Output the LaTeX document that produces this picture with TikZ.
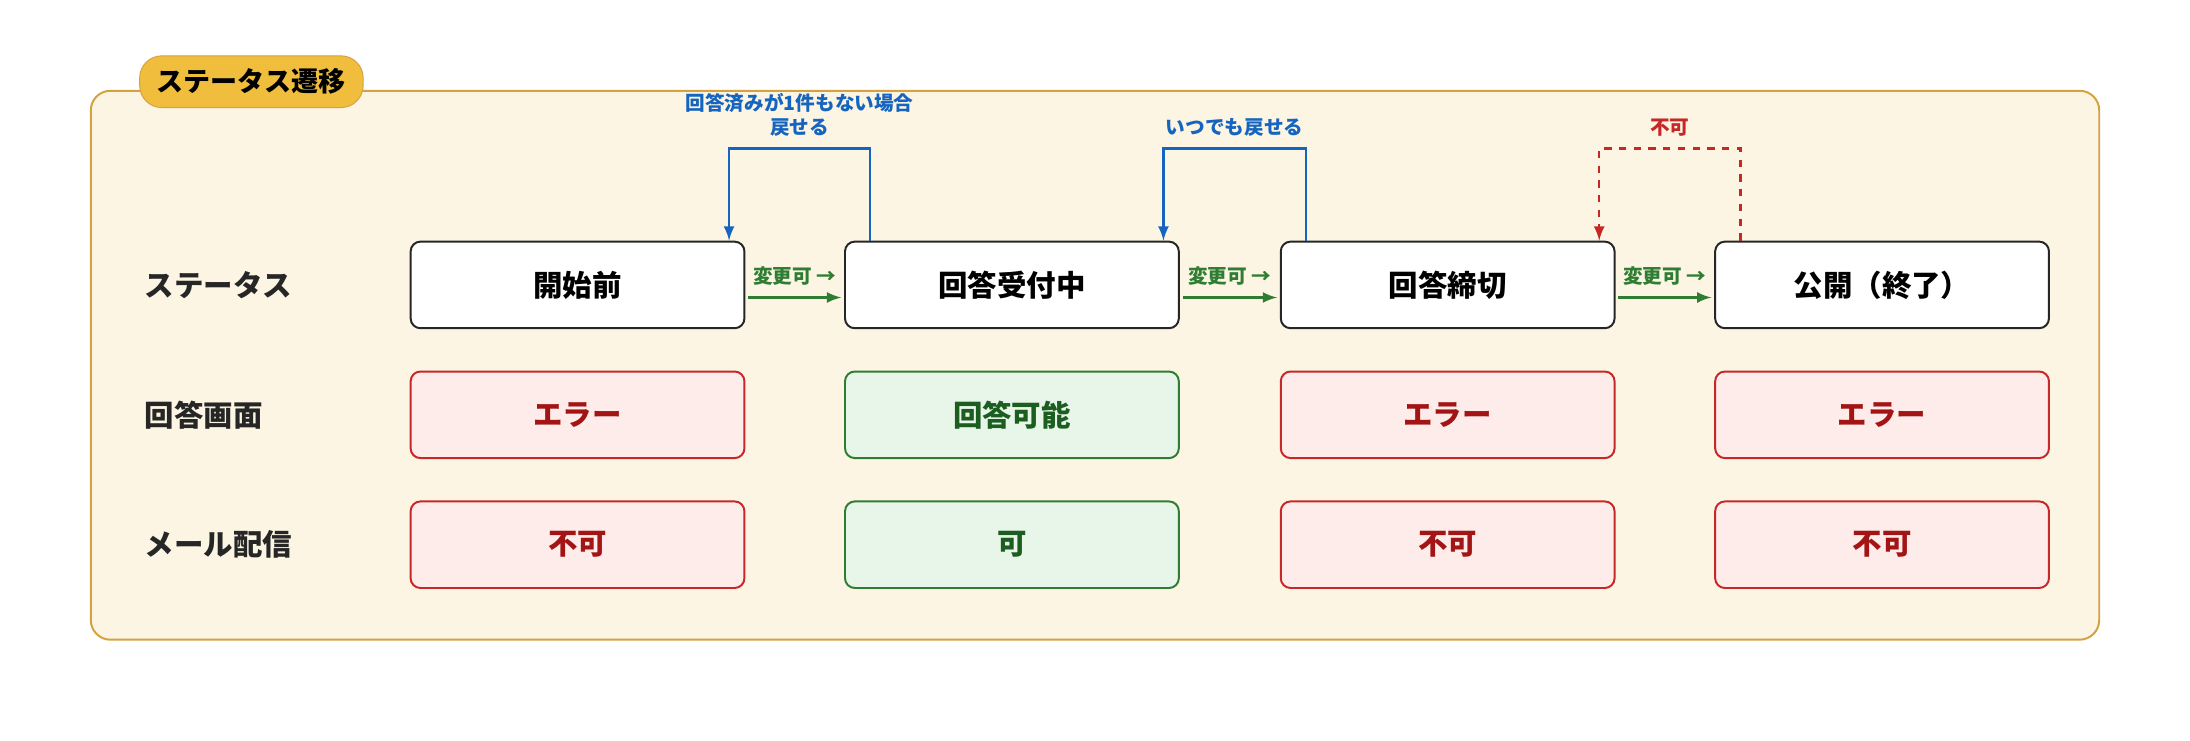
\documentclass[tikz,border=0pt]{standalone}
\usepackage{fontspec}
\setmainfont{Noto Sans CJK JP}
\usetikzlibrary{positioning}
\definecolor{panelfill}{HTML}{FCF5E3}
\definecolor{paneldraw}{HTML}{D4A240}
\definecolor{badgefill}{HTML}{F0BE3C}
\definecolor{ngfill}{HTML}{FDECEA}
\definecolor{ngdraw}{HTML}{C62828}
\definecolor{ngtext}{HTML}{A31515}
\definecolor{okfill}{HTML}{E8F5E9}
\definecolor{okdraw}{HTML}{2E7D32}
\definecolor{oktext}{HTML}{1B5E20}
\definecolor{backblue}{HTML}{1565C0}
\tikzstyle{status} = [rectangle, rounded corners=4pt, minimum width=4.78cm, minimum height=1.24cm, text centered, draw=black!85, fill=white, font=\bfseries\fontsize{12}{14}\selectfont, line width=0.8pt]
\tikzstyle{ng} = [status, draw=ngdraw, fill=ngfill, text=ngtext]
\tikzstyle{ok} = [status, draw=okdraw, fill=okfill, text=oktext]
\tikzstyle{rowlabel} = [anchor=west, font=\bfseries\fontsize{12}{14}\selectfont, text=black!85]
\tikzstyle{arrow} = [draw=okdraw, line width=1pt, ->, >=latex]
\tikzstyle{back} = [draw=backblue, line width=1pt, ->, >=latex]
\tikzstyle{noback} = [draw=ngdraw, line width=1pt, dashed, ->, >=latex]
\tikzstyle{small} = [font=\bfseries\fontsize{8}{10}\selectfont, align=center]
\begin{document}
\begin{tikzpicture}
    \useasboundingbox (0,0) rectangle (31.36,-10.6);
    \fill[white] (0,0) rectangle (31.36,-10.6);
    \draw[fill=panelfill, draw=paneldraw, line width=0.8pt, rounded corners=8pt] (1.3,-1.3) rectangle (30.06,-9.16);
    \node (badge) [rectangle, rounded corners=9pt, fill=badgefill, draw=paneldraw, minimum width=3.2cm, minimum height=0.74cm, font=\bfseries\fontsize{11}{13}\selectfont] at (3.6,-1.17) {ステータス遷移};

    % row labels
    \node (lstatus) [rowlabel] at (1.95,-4.08) {ステータス};
    \node (lscreen) [rowlabel] at (1.95,-5.94) {回答画面};
    \node (lmail) [rowlabel] at (1.95,-7.80) {メール配信};

    % status row
    \node (s1) [status] at (8.27,-4.08) {開始前};
    \node (s2) [status] at (14.49,-4.08) {回答受付中};
    \node (s3) [status] at (20.73,-4.08) {回答締切};
    \node (s4) [status] at (26.95,-4.08) {公開（終了）};

    % screen row
    \node (r1) [ng] at (8.27,-5.94) {エラー};
    \node (r2) [ok] at (14.49,-5.94) {回答可能};
    \node (r3) [ng] at (20.73,-5.94) {エラー};
    \node (r4) [ng] at (26.95,-5.94) {エラー};

    % mail row
    \node (m1) [ng] at (8.27,-7.80) {不可};
    \node (m2) [ok] at (14.49,-7.80) {可};
    \node (m3) [ng] at (20.73,-7.80) {不可};
    \node (m4) [ng] at (26.95,-7.80) {不可};

    % forward transitions
    \foreach \a/\b in {s1/s2, s2/s3, s3/s4} {
        \draw [arrow] ([xshift=0.04cm, yshift=-0.18cm]\a.east) -- node[above=1pt, small, text=okdraw] {変更可 →} ([xshift=-0.04cm, yshift=-0.18cm]\b.west);
    }

    % back transitions
    \draw [back] ([xshift=-2.03cm]s2.north) -- ++(0,1.32) -| node[pos=0.25, above=1pt, small, text=backblue] {回答済みが1件もない場合\\戻せる} ([xshift=2.17cm]s1.north);
    \draw [back] ([xshift=-2.03cm]s3.north) -- ++(0,1.32) -| node[pos=0.25, above=1pt, small, text=backblue] {いつでも戻せる} ([xshift=2.17cm]s2.north);
    \draw [noback] ([xshift=-2.03cm]s4.north) -- ++(0,1.32) -| node[pos=0.25, above=1pt, small, text=ngdraw] {不可} ([xshift=2.17cm]s3.north);
\end{tikzpicture}
\end{document}
